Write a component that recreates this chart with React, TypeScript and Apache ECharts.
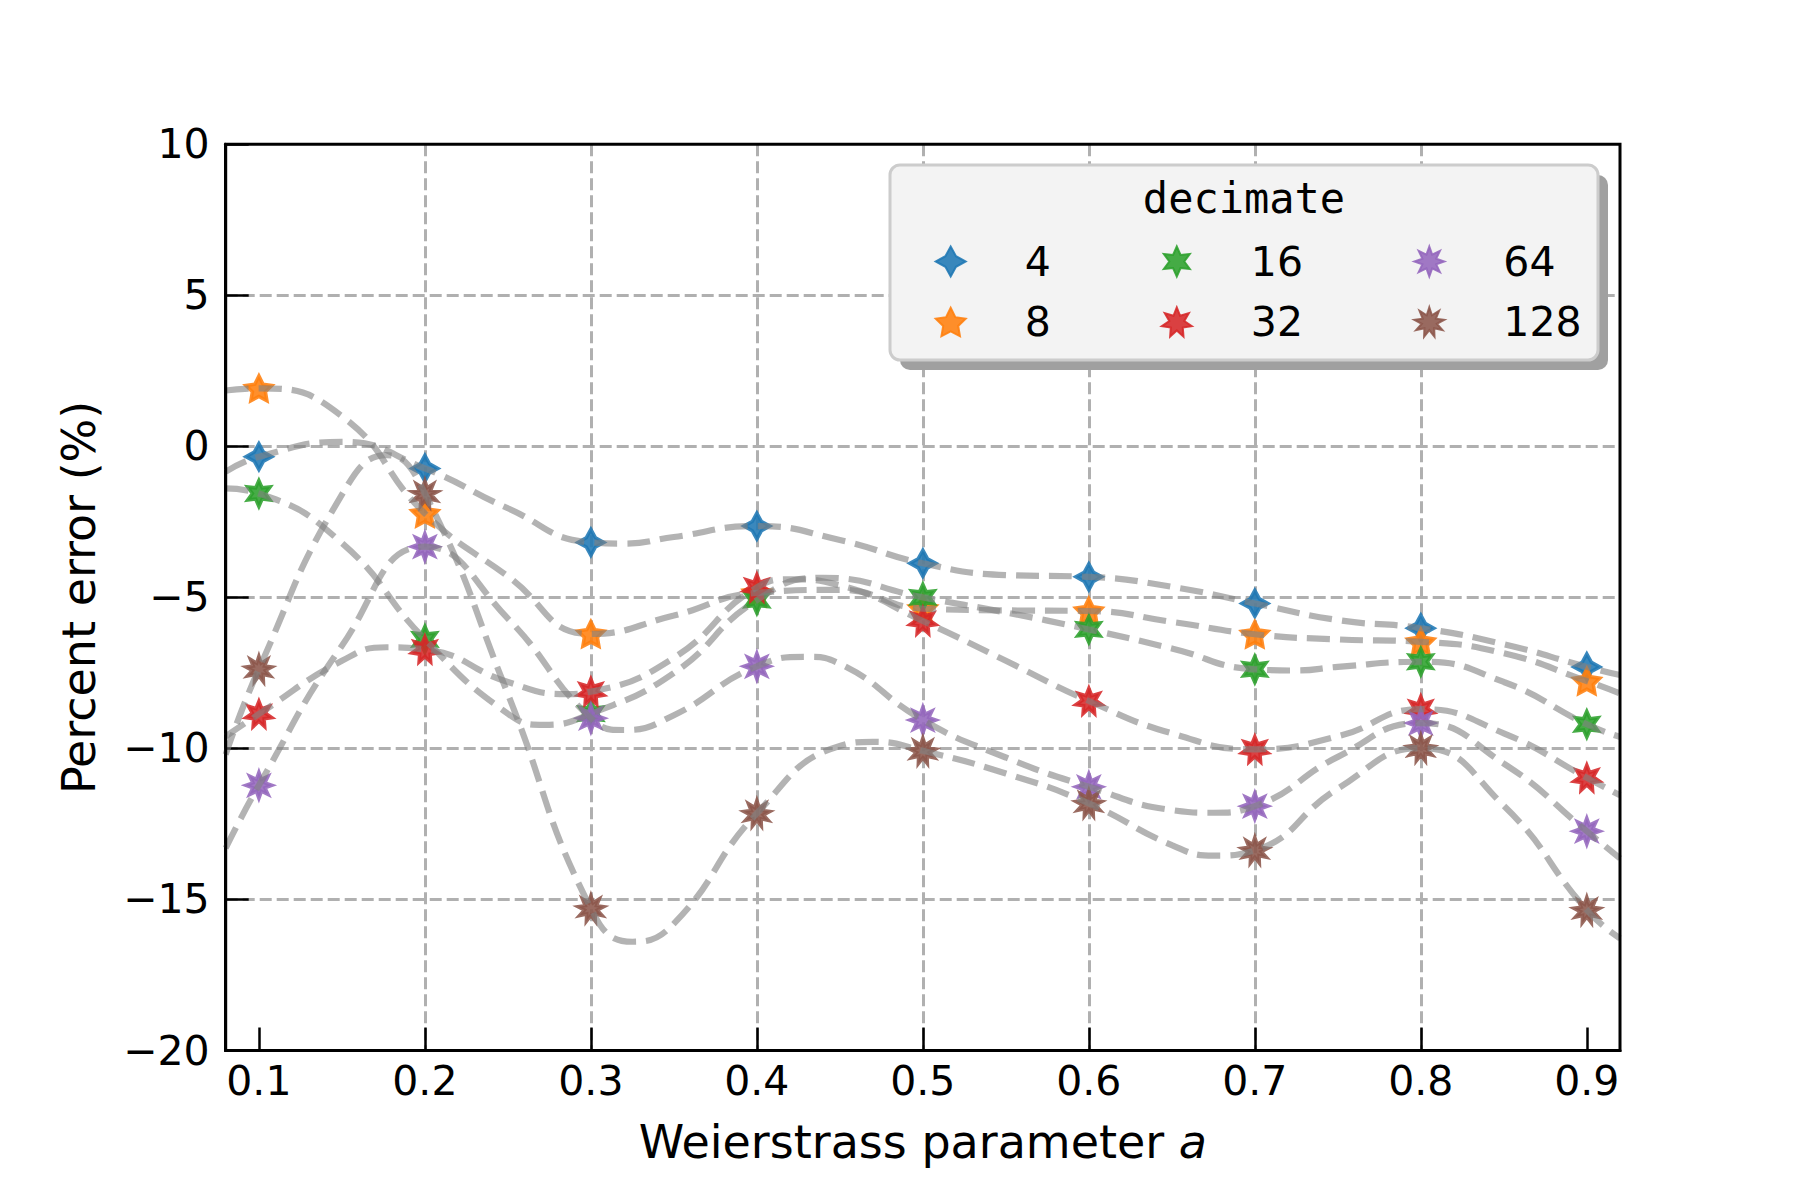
import React, { useEffect, useRef } from 'react';
import * as echarts from 'echarts';

// ---- data ----
const decimates = ['4', '8', '16', '32', '64', '128'];
const seriesColors = ['#1f77b4', '#ff7f0e', '#2ca02c', '#d62728', '#9467bd', '#8c564b'];
const starTips = [4, 5, 6, 7, 8, 9];

const aValues = [0.1, 0.2, 0.3, 0.4, 0.5, 0.6, 0.7, 0.8, 0.9];
const xTickValues = [0.1, 0.2, 0.3, 0.4, 0.5, 0.6, 0.7, 0.8, 0.9];

const err4 = [-0.34, -0.73, -3.18, -2.64, -3.87, -4.32, -5.2, -6.02, -7.3];
const err8 = [1.92, -2.22, -6.21, -4.85, -5.37, -5.45, -6.22, -6.47, -7.77];
const err16 = [-1.56, -6.39, -8.85, -5.09, -5.0, -6.06, -7.38, -7.13, -9.2];
const err32 = [-8.86, -6.72, -8.12, -4.67, -5.78, -8.43, -10.03, -8.7, -10.97];
const err64 = [-11.22, -3.32, -9.0, -7.28, -9.06, -11.27, -11.91, -9.16, -12.74];
const err128 = [-7.37, -1.56, -15.3, -12.15, -10.08, -11.82, -13.37, -9.99, -15.35];

// extra points of the gray fitted curves ([a, percent])
const fit4Extra = [[0.08, -0.84], [0.15, 0.15], [0.25, -2.05], [0.32, -3.22], [0.35, -3.0], [0.45, -3.1], [0.55, -4.26], [0.65, -4.65], [0.75, -5.75], [0.85, -6.55], [0.92, -7.57]];
const fit8Extra = [[0.08, 1.85], [0.15, 1.0], [0.25, -4.3], [0.35, -5.6], [0.45, -4.75], [0.55, -5.43], [0.65, -5.81], [0.75, -6.39], [0.85, -6.85], [0.92, -8.18]];
const fit16Extra = [[0.08, -1.39], [0.15, -3.2], [0.25, -8.85], [0.272, -9.22], [0.35, -7.5], [0.44, -4.35], [0.55, -5.5], [0.65, -6.69], [0.725, -7.42], [0.75, -7.3], [0.85, -7.8], [0.92, -9.62]];
const fit32Extra = [[0.08, -9.6], [0.15, -7.1], [0.177, -6.65], [0.25, -7.8], [0.285, -8.2], [0.35, -7.0], [0.42, -4.4], [0.45, -4.6], [0.55, -7.1], [0.65, -9.5], [0.75, -9.6], [0.85, -9.5], [0.92, -11.55]];
const fit64Extra = [[0.08, -13.3], [0.15, -6.6], [0.25, -5.7], [0.32, -9.39], [0.35, -8.9], [0.43, -6.97], [0.45, -7.2], [0.55, -10.3], [0.65, -12.04], [0.675, -12.13], [0.75, -10.28], [0.85, -10.5], [0.92, -13.64]];
const fit128Extra = [[0.08, -10.2], [0.15, -1.6], [0.177, -0.29], [0.25, -8.2], [0.325, -16.4], [0.35, -15.8], [0.45, -9.92], [0.47, -9.78], [0.55, -10.83], [0.65, -13.2], [0.675, -13.55], [0.75, -11.33], [0.85, -11.9], [0.92, -16.29]];

const errs = [err4, err8, err16, err32, err64, err128];
const fitExtras = [fit4Extra, fit8Extra, fit16Extra, fit32Extra, fit64Extra, fit128Extra];

function starPath(n: number): string {
  const pts: string[] = [];
  for (let i = 0; i < 2 * n; i++) {
    const r = i % 2 === 0 ? 100 : 50;
    const ang = Math.PI / 2 + (i * Math.PI) / n;
    pts.push((r * Math.cos(ang)).toFixed(2) + ' ' + (-r * Math.sin(ang)).toFixed(2));
  }
  return 'path://M' + pts.join(' L') + ' Z';
}

function curveData(pts: number[], extra: number[][]): number[][] {
  const all = aValues.map((a, j) => [a, pts[j]]).concat(extra.map((p) => [p[0], p[1]]));
  all.sort((p, q) => p[0] - q[0]);
  return all;
}

const FONT = 'DejaVu Sans';

export default function App() {
  const ref = useRef<HTMLDivElement>(null);
  useEffect(() => {
    document.body.style.margin = '0';
    document.body.style.overflow = 'hidden';
    if (!ref.current) return;
    const chart = echarts.init(ref.current, undefined, { renderer: 'svg' });

    const scatterSeries = decimates.map((d, i) => ({
      type: 'scatter',
      name: d,
      data: aValues.map((a, j) => [a, errs[i][j]]),
      symbol: starPath(starTips[i]),
      symbolSize: 26,
      symbolKeepAspect: true,
      itemStyle: { color: seriesColors[i], borderColor: seriesColors[i], borderWidth: 3.5, opacity: 0.88 },
      z: 3,
      silent: true,
    }));
    const lineSeries = decimates.map((d, i) => ({
      type: 'line',
      name: 'fit ' + d,
      data: curveData(errs[i], fitExtras[i]),
      smooth: 0.5,
      showSymbol: false,
      symbol: 'none',
      lineStyle: { color: 'rgba(128,128,128,0.6)', width: 6.2, type: [23, 10] },
      z: 4,
      silent: true,
    }));

    const legendLefts = [934.7, 1160.8, 1413.3];

    chart.setOption({
      animation: false,
      backgroundColor: '#ffffff',
      grid: {
        left: 225.7,
        right: 180,
        top: 144.3,
        bottom: 149.5,
        show: true,
        borderColor: '#000',
        borderWidth: 3,
        backgroundColor: 'transparent',
        containLabel: false,
        outerBoundsMode: 'none',
        z: 5,
      },
      xAxis: {
        type: 'value',
        min: 0.08,
        max: 0.92,
        axisLine: { show: true, onZero: false, lineStyle: { color: '#000', width: 3 } },
        axisTick: {
          show: true,
          inside: true,
          length: 23,
          lineStyle: { color: '#000', width: 2.5 },
          customValues: xTickValues,
        },
        axisLabel: {
          customValues: xTickValues,
          formatter: (v: number) => v.toFixed(1),
          fontSize: 41,
          fontFamily: FONT,
          color: '#000',
          margin: 10,
        },
        splitLine: { show: true, showMinLine: false, showMaxLine: false, lineStyle: { color: '#b0b0b0', width: 3, type: [12, 5] } },
        name: '{n|Weierstrass parameter }{i|a}',
        nameLocation: 'middle',
        nameGap: 68,
        nameTextStyle: {
          rich: {
            n: { fontSize: 46, fontFamily: FONT, color: '#000', lineHeight: 46 },
            i: { fontSize: 46, fontFamily: FONT, fontStyle: 'italic', color: '#000', lineHeight: 46 },
          },
        },
      },
      yAxis: {
        type: 'value',
        min: -20,
        max: 10,
        interval: 5,
        axisLine: { show: true, onZero: false, lineStyle: { color: '#000', width: 3 } },
        axisTick: { show: true, inside: true, length: 23, lineStyle: { color: '#000', width: 2.5 } },
        axisLabel: {
          formatter: (v: number) => (v < 0 ? '\u2212' + Math.abs(v) : String(v)),
          fontSize: 41,
          fontFamily: FONT,
          color: '#000',
          margin: 16,
        },
        splitLine: { show: true, showMinLine: false, showMaxLine: false, lineStyle: { color: '#b0b0b0', width: 3, type: [12, 5] } },
        name: 'Percent error (%)',
        nameLocation: 'middle',
        nameGap: 124,
        nameTextStyle: { fontSize: 46, fontFamily: FONT, color: '#000', lineHeight: 46 },
      },
      legend: [0, 1, 2].map((c) => ({
        data: [decimates[2 * c], decimates[2 * c + 1]],
        orient: 'vertical',
        left: legendLefts[c],
        top: 241,
        padding: 0,
        itemWidth: 30,
        itemHeight: 30,
        itemGap: 19.5,
        selectedMode: false,
        z: 20,
        textStyle: { fontSize: 41, fontFamily: FONT, color: '#000', padding: [0, 0, 0, 54] },
      })),
      graphic: [
        {
          type: 'rect',
          z: 15,
          silent: true,
          shape: { x: 900, y: 175, width: 708, height: 195, r: 10 },
          style: { fill: '#a0a0a0' },
        },
        {
          type: 'rect',
          z: 16,
          silent: true,
          shape: { x: 890, y: 165, width: 708, height: 195, r: 10 },
          style: { fill: '#f3f3f3', stroke: '#cccccc', lineWidth: 3 },
        },
        {
          type: 'text',
          z: 17,
          silent: true,
          x: 1244,
          y: 198,
          style: {
            text: 'decimate',
            fontSize: 42,
            fontFamily: 'DejaVu Sans Mono',
            fill: '#000',
            align: 'center',
            verticalAlign: 'middle',
            textAlign: 'center',
            textVerticalAlign: 'middle',
          },
        },
      ],
      series: [...scatterSeries, ...lineSeries],
    });
    return () => chart.dispose();
  }, []);
  return <div ref={ref} style={{ width: 1800, height: 1200 }} />;
}
